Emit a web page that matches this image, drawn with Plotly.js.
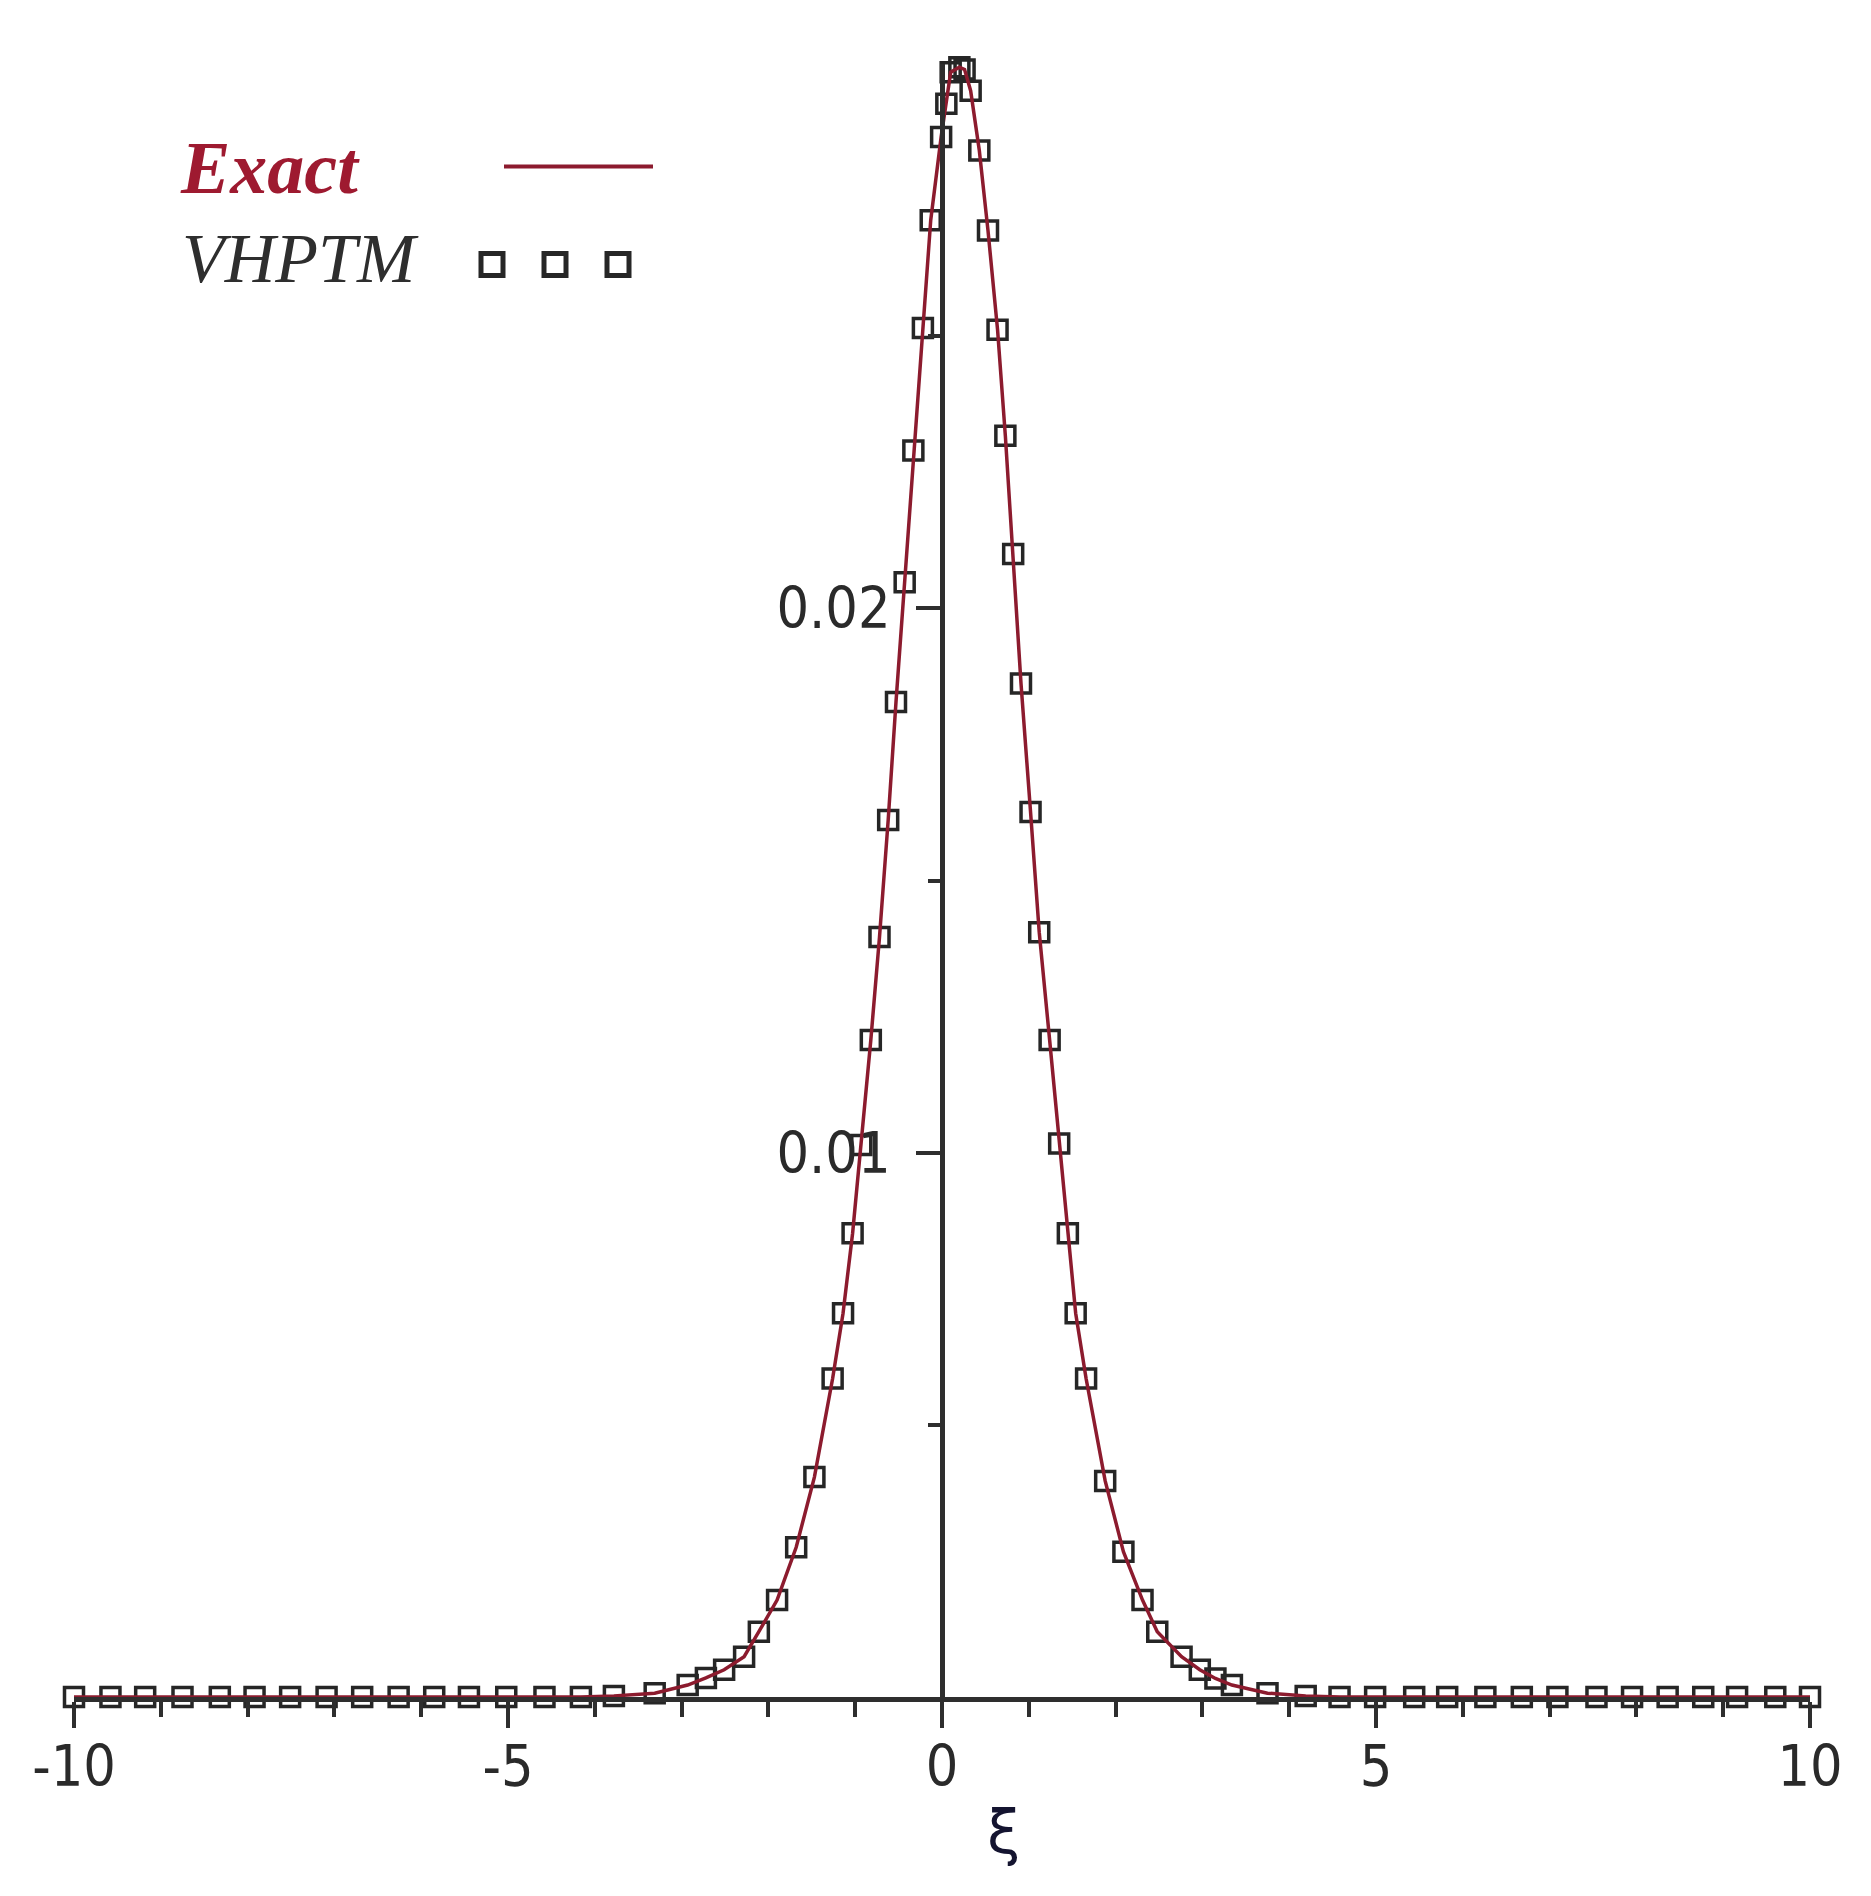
<!DOCTYPE html>
<html>
<head>
<meta charset="utf-8">
<script src="https://cdn.plot.ly/plotly-3.0.1.min.js"></script>
<style>
  html, body { margin: 0; padding: 0; background: #ffffff; }
  #chart { width: 1871px; height: 1896px; }
</style>
</head>
<body>
<div id="chart"></div>
<script>
// ---- data ----
const xi = [
  -10, -9.58, -9.18, -8.75, -8.32, -7.92, -7.51, -7.09, -6.68, -6.26,
  -5.85, -5.45, -5.02, -4.58, -4.16, -3.78, -3.31, -2.93, -2.72, -2.51,
  -2.28, -2.11, -1.90, -1.68, -1.47, -1.26, -1.14, -1.03, -0.93, -0.82,
  -0.72, -0.62, -0.53, -0.43, -0.33, -0.22, -0.13, -0.01, 0.05, 0.10,
  0.20, 0.26, 0.33, 0.43, 0.53, 0.64, 0.73, 0.82, 0.91, 1.02,
  1.12, 1.24, 1.35, 1.45, 1.54, 1.66, 1.88, 2.09, 2.31, 2.48,
  2.76, 2.97, 3.15, 3.34, 3.75, 4.19, 4.58, 4.99, 5.44, 5.82,
  6.26, 6.68, 7.09, 7.54, 7.95, 8.36, 8.77, 9.16, 9.60, 10
];
const exactU = [
  0, 0, 0, 0, 0, 0, 0, 0, 0, 0,
  0, 0, 0, 0, 0, 0.00002, 0.00007, 0.00022, 0.00035, 0.0005,
  0.00074, 0.0012, 0.00178, 0.00275, 0.00404, 0.00585, 0.00705, 0.00852, 0.01014, 0.01207,
  0.01396, 0.01611, 0.01828, 0.02048, 0.0229, 0.02515, 0.02713, 0.02866, 0.02927, 0.02985,
  0.02994, 0.0299, 0.02951, 0.02841, 0.02694, 0.02512, 0.02317, 0.021, 0.01862, 0.01626,
  0.01405, 0.01207, 0.01017, 0.00852, 0.00705, 0.00585, 0.00397, 0.00267, 0.00178, 0.0012,
  0.00074, 0.0005, 0.00034, 0.00022, 0.00007, 0.00002, 0, 0, 0, 0,
  0, 0, 0, 0, 0, 0, 0, 0, 0, 0
];
const vhptmU = [
  0, 0, 0, 0, 0, 0, 0, 0, 0, 0,
  0, 0, 0, 0, 0, 0.00002, 0.00007, 0.00022, 0.00035, 0.0005,
  0.00074, 0.0012, 0.00178, 0.00275, 0.00404, 0.00585, 0.00705, 0.00852, 0.01014, 0.01207,
  0.01396, 0.01611, 0.01828, 0.02048, 0.0229, 0.02515, 0.02713, 0.02866, 0.02927, 0.02985,
  0.02994, 0.0299, 0.02951, 0.02841, 0.02694, 0.02512, 0.02317, 0.021, 0.01862, 0.01626,
  0.01405, 0.01207, 0.01017, 0.00852, 0.00705, 0.00585, 0.00397, 0.00267, 0.00178, 0.0012,
  0.00074, 0.0005, 0.00034, 0.00022, 0.00007, 0.00002, 0, 0, 0, 0,
  0, 0, 0, 0, 0, 0, 0, 0, 0, 0
];
const xTickVals = [-10, -5, 0, 5, 10];
const xTickText = ["-10", "-5", "0", "5", "10"];
const xMinorVals = [-9, -8, -7, -6, -4, -3, -2, -1, 1, 2, 3, 4, 6, 7, 8, 9];
const yTickVals = [0.01, 0.02];
const yTickText = ["0.01", "0.02"];
const yMinorVals = [0.005, 0.015, 0.025];
const seriesNames = ["Exact", "VHPTM"];
const xTitle = "ξ";

// ---- styling ----
const axisColor = "#2e2e2e";
const tickFont = { family: "Liberation Sans Narrow, DejaVu Sans Condensed, Arial Narrow, sans-serif", size: 57, color: "#2a2a2a" };
const exactColor = "#8c1b2e";
const markColor = "#262626";

const traces = [
  {
    x: xi, y: vhptmU, type: "scatter", mode: "markers", name: seriesNames[1],
    marker: { symbol: "square-open", size: 19, color: markColor, line: { width: 3.5, color: markColor } },
    cliponaxis: false, showlegend: false
  },
  {
    x: xi, y: exactU, type: "scatter", mode: "lines", name: seriesNames[0],
    line: { color: exactColor, width: 3.5 },
    cliponaxis: false, showlegend: false
  }
];

// plot area
const L = 74, R = 61, T = 63.5, B = 199;
const W = 1871, H = 1896;
const pw = W - L - R, ph = H - T - B;
const px = X => (X - L) / pw;          // page px -> paper x
const py = Y => (H - B - Y) / ph;      // page px -> paper y

const layout = {
  width: W, height: H,
  margin: { l: L, r: R, t: T, b: B, pad: 0 },
  paper_bgcolor: "#ffffff", plot_bgcolor: "#ffffff",
  showlegend: false,
  xaxis: {
    range: [-10, 10], showgrid: false, zeroline: false,
    showline: true, linecolor: axisColor, linewidth: 5,
    ticks: "outside", ticklen: 26, tickwidth: 4, tickcolor: axisColor,
    tickmode: "array", tickvals: xTickVals, ticktext: xTickText,
    tickfont: tickFont, ticklabelstandoff: -10,
    minor: { tickmode: "array", tickvals: xMinorVals, ticks: "outside", ticklen: 15, tickwidth: 4, tickcolor: axisColor, showgrid: false }
  },
  yaxis: {
    range: [0, 0.03], showgrid: false, zeroline: false,
    anchor: "free", position: 0.5,
    showline: true, linecolor: axisColor, linewidth: 5,
    ticks: "outside", ticklen: 24, tickwidth: 4, tickcolor: axisColor,
    tickmode: "array", tickvals: yTickVals, ticktext: yTickText,
    tickfont: tickFont, ticklabelstandoff: 14,
    minor: { tickmode: "array", tickvals: yMinorVals, ticks: "outside", ticklen: 12, tickwidth: 4, tickcolor: axisColor, showgrid: false }
  },
  annotations: [
    { text: xTitle, xref: "x", yref: "paper", x: 0.71, y: py(1832), xanchor: "center", yanchor: "middle",
      showarrow: false, font: { family: "DejaVu Sans, sans-serif", size: 60, color: "#141430" } },
    { text: "<b><i>" + seriesNames[0] + "</i></b>", xref: "paper", yref: "paper", x: px(178), y: py(168),
      xanchor: "left", yanchor: "middle", showarrow: false,
      font: { family: "Liberation Serif, DejaVu Serif, serif", size: 74, color: "#9e1a30" } },
    { text: "<i>" + seriesNames[1] + "</i>", xref: "paper", yref: "paper", x: px(180), y: py(258),
      xanchor: "left", yanchor: "middle", showarrow: false,
      font: { family: "Liberation Serif, DejaVu Serif, serif", size: 70, color: "#2e2e2e" } }
  ],
  shapes: [
    { type: "line", xref: "paper", yref: "paper", x0: px(504), x1: px(653), y0: py(166), y1: py(166),
      line: { color: exactColor, width: 4 } }
  ].concat([492, 555, 618].map(cx => ({
    type: "rect", xref: "paper", yref: "paper",
    x0: px(cx - 11), x1: px(cx + 11), y0: py(264 + 11), y1: py(264 - 11),
    line: { color: markColor, width: 5 }, fillcolor: "rgba(0,0,0,0)"
  })))
};

Plotly.newPlot("chart", traces, layout, { staticPlot: true, displayModeBar: false });
</script>
</body>
</html>
